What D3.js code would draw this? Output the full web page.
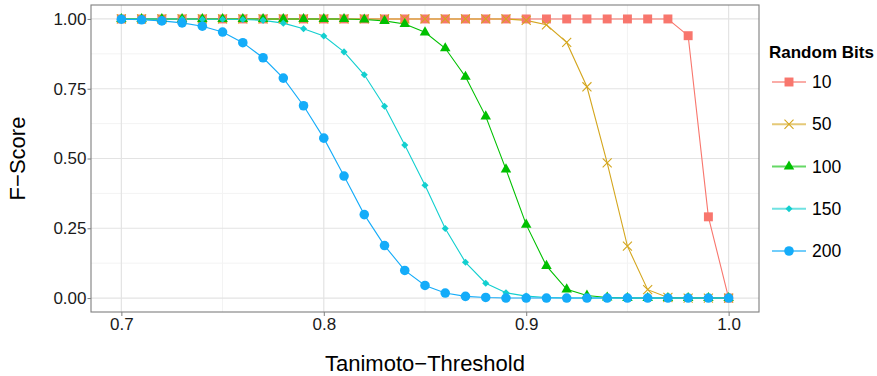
<!DOCTYPE html>
<html>
<head>
<meta charset="utf-8">
<script src="https://cdn.jsdelivr.net/npm/d3@7"></script>
<style>
  body { margin: 0; background: white; }
  text { font-family: "Liberation Sans", Arial, sans-serif; }
</style>
</head>
<body>
<div id="my_dataviz"></div>
<script>
// thresholds on the x axis
const thresholds = d3.range(31).map(i => +(0.70 + i * 0.01).toFixed(2));

// F-scores per random bits setting
const bits10 = [1, 1, 1, 1, 1, 1, 1, 1, 1, 1, 1, 1, 1, 1, 1, 1, 1, 1, 1, 1,
  1, 1, 1, 1, 1, 1, 1, 1, 0.940, 0.291, 0];
const bits50 = [1, 1, 1, 1, 1, 1, 1, 1, 1, 1, 1, 1, 1, 1, 1, 1, 1, 1, 1, 1,
  0.995, 0.979, 0.916, 0.757, 0.484, 0.186, 0.030, 0.002, 0, 0, 0];
const bits100 = [1, 1, 1, 1, 1, 1, 1, 1, 1, 1, 1, 1, 0.998, 0.993, 0.982, 0.952,
  0.895, 0.793, 0.651, 0.461, 0.263, 0.115, 0.031, 0.009, 0.002, 0, 0, 0, 0, 0, 0];
const bits150 = [1, 1, 1, 1, 0.999, 0.999, 0.998, 0.995, 0.985, 0.965, 0.939,
  0.882, 0.800, 0.687, 0.548, 0.404, 0.249, 0.128, 0.053, 0.019, 0.007, 0.002,
  0, 0, 0, 0, 0, 0, 0, 0, 0];
const bits200 = [0.999, 0.997, 0.993, 0.986, 0.974, 0.953, 0.915, 0.861, 0.788,
  0.689, 0.573, 0.437, 0.299, 0.188, 0.099, 0.045, 0.018, 0.006, 0.002,
  0, 0, 0, 0, 0, 0, 0, 0, 0, 0, 0, 0];

const seriesNames = ["10", "50", "100", "150", "200"];
const seriesValues = [bits10, bits50, bits100, bits150, bits200];

const xTicks = [0.7, 0.8, 0.9, 1.0];
const yTicks = [0, 0.25, 0.5, 0.75, 1];

// styles per series
const colors = ["#F8766D", "#D4A61E", "#00C000", "#12CFCF", "#14ACF9"];
const shapes = [d3.symbolSquare, d3.symbolX, d3.symbolTriangle, d3.symbolSquare, d3.symbolCircle];
const sizes = [80, 55, 48, 25, 72];
const rotate = [0, 0, 0, 45, 0];

const data = seriesNames.map((name, i) => ({
  name: name,
  points: thresholds.map((t, j) => ({ x: t, y: seriesValues[i][j] }))
}));

// set the dimensions and margins of the graph
const margin = { top: 5, right: 118, bottom: 64, left: 91 },
  width = 877 - margin.left - margin.right,
  height = 376 - margin.top - margin.bottom;

const svg = d3.select("#my_dataviz")
  .append("svg")
  .attr("width", 877)
  .attr("height", 376)
  .append("g")
  .attr("transform", `translate(${margin.left},${margin.top})`);

// scales (ggplot style 5% expansion)
const x = d3.scaleLinear()
  .domain([0.685, 1.015])
  .range([0, width]);
const y = d3.scaleLinear()
  .domain([-0.05, 1.05])
  .range([height, 0]);

// minor grid
svg.append("g")
  .selectAll("line")
  .data([0.75, 0.85, 0.95])
  .join("line")
  .attr("x1", d => x(d)).attr("x2", d => x(d))
  .attr("y1", 0).attr("y2", height)
  .attr("stroke", "#F3F3F3").attr("stroke-width", 1);
svg.append("g")
  .selectAll("line")
  .data([0.125, 0.375, 0.625, 0.875])
  .join("line")
  .attr("x1", 0).attr("x2", width)
  .attr("y1", d => y(d)).attr("y2", d => y(d))
  .attr("stroke", "#F3F3F3").attr("stroke-width", 1);

// major grid
svg.append("g")
  .selectAll("line")
  .data(xTicks)
  .join("line")
  .attr("x1", d => x(d)).attr("x2", d => x(d))
  .attr("y1", 0).attr("y2", height)
  .attr("stroke", "#E3E3E3").attr("stroke-width", 1.2);
svg.append("g")
  .selectAll("line")
  .data(yTicks)
  .join("line")
  .attr("x1", 0).attr("x2", width)
  .attr("y1", d => y(d)).attr("y2", d => y(d))
  .attr("stroke", "#E3E3E3").attr("stroke-width", 1.2);

// axes
const xAxis = svg.append("g")
  .attr("transform", `translate(0,${height})`)
  .call(d3.axisBottom(x).tickValues(xTicks).tickFormat(d3.format(".1f"))
    .tickSize(4).tickPadding(2));
const yAxis = svg.append("g")
  .call(d3.axisLeft(y).tickValues(yTicks).tickFormat(d3.format(".2f"))
    .tickSize(3.5).tickPadding(1));

[xAxis, yAxis].forEach(a => {
  a.select(".domain").remove();
  a.selectAll(".tick line").attr("stroke", "#7F7F7F");
  a.selectAll(".tick text")
    .attr("fill", "#1A1A1A")
    .attr("font-size", "17px")
    .attr("font-family", "Liberation Sans, Arial, sans-serif");
});

// lines
const line = d3.line()
  .x(d => x(d.x))
  .y(d => y(d.y));

svg.append("g")
  .selectAll("path")
  .data(data)
  .join("path")
  .attr("d", d => line(d.points))
  .attr("fill", "none")
  .attr("stroke", (d, i) => colors[i])
  .attr("stroke-width", 1.1);

// points
data.forEach((s, i) => {
  const sym = d3.symbol().type(shapes[i]).size(sizes[i]);
  svg.append("g")
    .selectAll("path")
    .data(s.points)
    .join("path")
    .attr("d", sym)
    .attr("transform", d => `translate(${x(d.x)},${y(d.y)}) rotate(${rotate[i]})`)
    .attr("fill", shapes[i] === d3.symbolX ? "none" : colors[i])
    .attr("stroke", shapes[i] === d3.symbolX ? colors[i] : "none")
    .attr("stroke-width", 1.1);
});

// panel border
svg.append("rect")
  .attr("width", width)
  .attr("height", height)
  .attr("fill", "none")
  .attr("stroke", "#7F7F7F")
  .attr("stroke-width", 1.1);

// axis titles
svg.append("text")
  .attr("x", width / 2)
  .attr("y", height + 59)
  .attr("text-anchor", "middle")
  .attr("font-size", "22px")
  .attr("fill", "#000")
  .text("Tanimoto\u2212Threshold");

svg.append("text")
  .attr("transform", `translate(${17 - margin.left + 8},${height / 2}) rotate(-90)`)
  .attr("text-anchor", "middle")
  .attr("font-size", "22px")
  .attr("fill", "#000")
  .text("F\u2212Score");

// legend
const legend = d3.select("svg").append("g")
  .attr("transform", "translate(769,0)");

legend.append("text")
  .attr("x", 0)
  .attr("y", 58)
  .attr("font-size", "17px")
  .attr("font-weight", "bold")
  .text("Random Bits");

const rowY = d3.scalePoint()
  .domain(seriesNames)
  .range([82, 251]);

seriesNames.forEach((name, i) => {
  const g = legend.append("g")
    .attr("transform", `translate(0,${rowY(name)})`);
  g.append("line")
    .attr("x1", 3).attr("x2", 37)
    .attr("stroke", colors[i])
    .attr("stroke-width", 2)
    .attr("opacity", 0.6);
  g.append("path")
    .attr("d", d3.symbol().type(shapes[i]).size(sizes[i]))
    .attr("transform", `translate(20,0) rotate(${rotate[i]})`)
    .attr("fill", shapes[i] === d3.symbolX ? "none" : colors[i])
    .attr("stroke", shapes[i] === d3.symbolX ? colors[i] : "none")
    .attr("stroke-width", 1.1);
  g.append("text")
    .attr("x", 43)
    .attr("y", 6)
    .attr("font-size", "17.5px")
    .attr("fill", "#000")
    .text(name);
});
</script>
</body>
</html>
